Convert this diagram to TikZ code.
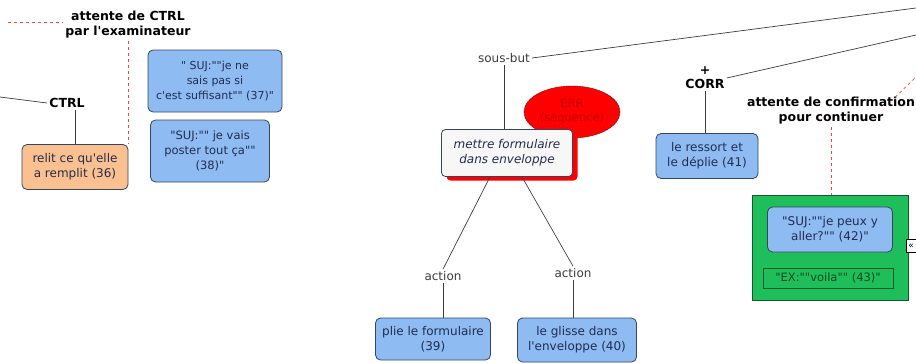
\documentclass[tikz,border=0pt]{standalone}
\usepackage{fontspec}
\setmainfont{DejaVu Sans}[Ligatures=TeXOff]
\usetikzlibrary{shapes.geometric, shadows, positioning}
\definecolor{boxblue}{RGB}{141,187,242}
\definecolor{boxedge}{RGB}{55,70,95}
\definecolor{boxtext}{RGB}{35,45,80}
\definecolor{boxorange}{RGB}{250,192,143}
\definecolor{boxgreen}{RGB}{30,190,90}
\definecolor{greenedge}{RGB}{20,90,40}
\definecolor{linktext}{RGB}{60,60,60}
\tikzset{
  concept/.style={draw=boxedge, fill=boxblue, rounded corners=5pt, line width=0.8pt,
    align=center, text=boxtext, inner sep=2pt, font=\fontsize{12}{15}\selectfont},
  linklabel/.style={text=linktext, inner sep=2pt, font=\fontsize{12}{15}\selectfont},
  ctxlabel/.style={align=center, inner sep=2pt, font=\bfseries\fontsize{12.5}{15}\selectfont},
  wire/.style={draw=linktext, line width=0.7pt},
  waitline/.style={draw=red!75, dashed, line width=0.7pt}
}

\begin{document}
\begin{tikzpicture}[x=1pt, y=-1pt]
  \useasboundingbox (0,0) rectangle (916,362);

  % left part: CTRL
  \node[ctxlabel] (ctrlwait) at (128,25) {attente de CTRL\\par l'examinateur};
  \coordinate (ctrlwaitend) at (8,22);
  \node[ctxlabel] (ctrl) at (67,103) {CTRL};
  \coordinate (ctrlend) at (0,97);
  \node[concept, fill=boxorange, minimum width=106, minimum height=45] (relit) at (75,167)
    {relit ce qu'elle\\a remplit (36)};
  \node[concept, minimum width=134, minimum height=62, font=\fontsize{11}{15}\selectfont] (suj37) at (215,81)
    {" SUJ:""je ne\\sais pas si\\c'est suffisant"" (37)"};
  \node[concept, minimum width=119, minimum height=62, font=\fontsize{11.5}{15}\selectfont] (suj38) at (210,151)
    {"SUJ:"" je vais\\poster tout ça""\\(38)"};

  \draw[waitline] (ctrlwaitend) -- (ctrlwait.west |- ctrlwaitend);
  \draw[waitline] (ctrlwait.south) -- (ctrlwait.south |- relit.north);
  \draw[wire] (ctrlend) -- (ctrl.west);
  \draw[wire] (ctrl.south -| relit.north) -- (relit.north);

  % middle part: sous-but
  \node[linklabel] (sousbut) at (504,58) {sous-but};
  \coordinate (sousbutend) at (916,8);
  \node[ellipse, draw=red!60!black, fill=red, text=red!75!black, align=center,
    minimum width=96, minimum height=52, inner sep=0pt, font=\fontsize{11.5}{14}\selectfont] (err) at (572,112)
    {ERR\\(séquence)};
  \node[concept, fill=gray!6, rounded corners=4pt, minimum width=131, minimum height=47,
    font=\itshape\fontsize{12}{15}\selectfont,
    drop shadow={shadow xshift=5pt, shadow yshift=-4pt, fill=red, opacity=1}] (task) at (507,153)
    {mettre formulaire\\dans enveloppe};
  \node[linklabel] (act1) at (443,276) {action};
  \node[linklabel] (act2) at (573,273) {action};
  \node[concept, minimum width=115, minimum height=42] (plie) at (433,339)
    {plie le formulaire\\(39)};
  \node[concept, minimum width=119, minimum height=44] (glisse) at (577,340)
    {le glisse dans\\l'enveloppe (40)};

  \draw[wire] (sousbut.east) -- (sousbutend);
  \draw[wire] (sousbut.south) -- (sousbut.south |- task.north);
  \draw[wire] ([xshift=-17pt]task.south) -- (act1.north);
  \draw[wire] ([xshift=15pt]task.south) -- (act2.north);
  \draw[wire] (act1.south) -- (act1.south |- plie.north);
  \draw[wire] (act2.south) -- (act2.south |- glisse.north);

  % right part: CORR
  \node[ctxlabel, font=\bfseries\fontsize{12.5}{14}\selectfont] (corr) at (705,78) {+\\CORR};
  \coordinate (corrend) at (916,35);
  \node[concept, minimum width=102, minimum height=45] (ressort) at (707,156)
    {le ressort et\\le déplie (41)};
  \node[ctxlabel] (confwait) at (831,111) {attente de confirmation\\pour continuer};
  \coordinate (confwaitend) at (916,77);
  \node[draw=greenedge, fill=boxgreen, line width=0.8pt, minimum width=156, minimum height=105,
    inner sep=0pt] (grp) at (830,247.5) {};
  \node[concept, minimum width=125, minimum height=45] (suj42) at (830,229.5)
    {"SUJ:""je peux y\\aller?"" (42)"};
  \node[draw=greenedge, fill=boxgreen, line width=0.8pt, text=greenedge!80!black,
    minimum width=130, minimum height=20, inner sep=1pt, font=\fontsize{11.5}{14}\selectfont] (ex43) at (828,278)
    {"EX:""voila"" (43)"};
  \node[draw=black, fill=white, line width=0.5pt, inner sep=0.5pt, minimum width=10, minimum height=13,
    font=\fontsize{9}{9}\selectfont] (grpicon) at (911,246) {«};

  \draw[wire] (corr.east) -- (corrend);
  \draw[wire] (corr.south) -- (corr.south |- ressort.north);
  \draw[waitline] ([xshift=-22pt,yshift=-2pt]confwait.north east) -- (confwaitend);
  \draw[waitline] (confwait.south) -- (confwait.south |- grp.north);
\end{tikzpicture}
\end{document}
